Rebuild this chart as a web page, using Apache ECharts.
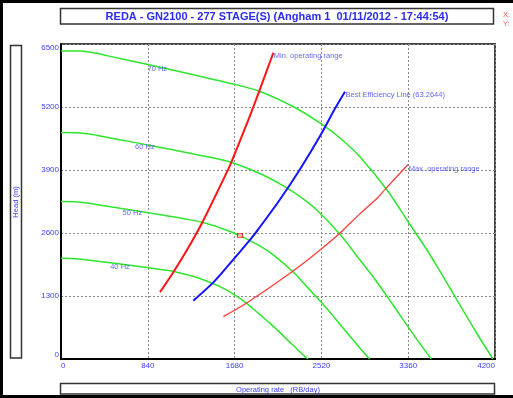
<!DOCTYPE html>
<html>
<head>
<meta charset="utf-8">
<script src="https://cdn.jsdelivr.net/npm/echarts@6/dist/echarts.min.js"></script>
<style>
  html, body { margin: 0; padding: 0; background: #fff; }
  #chart { width: 513px; height: 398px; }
</style>
</head>
<body>
<div id="chart"></div>
<script>
// Pump performance curves: [rate (RB/day), head (m)]
const curve70 = [[0,6356],[184,6356],[358,6304],[455,6255],[842,6077],[1229,5891],[1684,5664],[1926,5520],[2245,5210],[2506,4870],[2700,4560],[2894,4169],[3155,3487],[3358,2837],[3542,2249],[3668,1806],[3861,1114],[4016,557],[4180,0]];
const curve60 = [[0,4673],[158,4670],[307,4632],[390,4596],[722,4465],[1053,4328],[1443,4161],[1651,4056],[1924,3828],[2148,3578],[2314,3350],[2481,3063],[2704,2562],[2878,2084],[3036,1652],[3144,1327],[3309,818],[3442,409],[3583,0]];
const curve50 = [[0,3250],[131,3247],[256,3218],[325,3192],[601,3101],[878,3006],[1203,2890],[1376,2816],[1604,2658],[1790,2485],[1929,2327],[2067,2127],[2254,1779],[2399,1447],[2530,1147],[2620,921],[2758,568],[2869,284],[2986,0]];
const curve40 = [[0,2078],[105,2076],[205,2058],[260,2042],[481,1984],[702,1923],[962,1849],[1101,1802],[1283,1701],[1432,1590],[1543,1489],[1654,1361],[1803,1139],[1919,926],[2024,734],[2096,590],[2206,364],[2295,182],[2389,0]];

const hzNames = ['70 Hz', '60 Hz', '50 Hz', '40 Hz'];
const hzLabelFlow = [842, 722, 601, 481];

// Operating envelope and best efficiency line
const minRange = [[958,1380],[1087,1790],[1216,2237],[1362,2795],[1619,3918],[1652,4078],[1813,4932],[1861,5200],[1916,5512],[2055,6320]];
const bepLine = [[1280,1204],[1474,1582],[1636,1974],[1829,2458],[1894,2633],[2119,3291],[2313,3915],[2507,4600],[2652,5168],[2748,5515]];
const maxRange = [[1571,875],[1797,1155],[2233,1794],[2507,2249],[2700,2600],[2894,3000],[3055,3308],[3136,3500],[3361,4018]];
const lineNames = ['Min. operating range', 'Best Efficiency Line (63.2644)', 'Max. operating range'];

// Current operating point
const operatingPoint = [1732, 2550];

// Axis ticks
const xTicks = [0, 840, 1680, 2520, 3360, 4200];
const yTicks = [0, 1300, 2600, 3900, 5200, 6500];

const titleText = 'REDA - GN2100 - 277 STAGE(S) (Angham 1  01/11/2012 - 17:44:54)';
const xTitle = 'Operating rate   (RB/day)';
const yTitle = 'Head (m)';

const FONT = '"Liberation Sans", Arial, sans-serif';
const BLUE_TXT = '#3d3dff';

const hzCurves = [curve70, curve60, curve50, curve40];

const curveSeries = hzCurves.map((c, i) => ({
  name: hzNames[i],
  type: 'line',
  data: c,
  showSymbol: false,
  smooth: 0.3,
  lineStyle: { color: '#2ee62e', width: 1.5, join: 'round' },
  z: 2,
  silent: true
}));

// Text carriers anchored on the curves and at the line ends
const hzLabelData = hzCurves.map((c, i) => {
  const p = c.find(d => d[0] === hzLabelFlow[i]);
  return { value: [p[0], p[1]], label: { formatter: hzNames[i], position: [0, 1] } };
});
const lineEnds = [minRange, bepLine, maxRange].map((arr, i) => {
  const p = arr[arr.length - 1];
  return { value: [p[0], p[1]], label: { formatter: lineNames[i], position: [1, i === 2 ? 1 : 0] } };
});

const plainNumber = v => String(v);

const option = {
  animation: false,
  backgroundColor: '#fff',
  grid: {
    left: 61, right: 18, top: 44, bottom: 39,
    show: true, borderColor: '#444', borderWidth: 2, backgroundColor: 'transparent'
  },
  xAxis: {
    type: 'value', min: xTicks[0], max: xTicks[xTicks.length - 1], interval: 840,
    axisLine: { lineStyle: { color: '#000', width: 2 } },
    axisTick: { show: false },
    axisLabel: { color: BLUE_TXT, fontSize: 8, fontFamily: FONT, margin: 3, formatter: plainNumber,
                 alignMinLabel: 'left', alignMaxLabel: 'right' },
    splitLine: { show: true, lineStyle: { color: '#888', width: 1, type: [2, 2] } }
  },
  yAxis: {
    type: 'value', min: yTicks[0], max: yTicks[yTicks.length - 1], interval: 1300,
    axisLine: { show: true, lineStyle: { color: '#000', width: 2 } },
    axisTick: { show: false },
    axisLabel: { color: BLUE_TXT, fontSize: 8, fontFamily: FONT, margin: 2, formatter: plainNumber,
                 verticalAlignMinLabel: 'bottom', verticalAlignMaxLabel: 'top' },
    splitLine: { show: true, lineStyle: { color: '#888', width: 1, type: [2, 2] } }
  },
  series: [
    ...curveSeries,
    { name: lineNames[0], type: 'line', data: minRange, showSymbol: false, smooth: 0.3,
      lineStyle: { color: '#ff1414', width: 2, join: 'round' }, z: 3, silent: true },
    { name: lineNames[1], type: 'line', data: bepLine, showSymbol: false, smooth: 0.3,
      lineStyle: { color: '#1414ff', width: 2, join: 'round' }, z: 3, silent: true },
    { name: lineNames[2], type: 'line', data: maxRange, showSymbol: false, smooth: 0.3,
      lineStyle: { color: '#ff3c3c', width: 1.3, join: 'round' }, z: 3, silent: true },
    { name: 'Operating point', type: 'scatter', data: [operatingPoint],
      symbol: 'rect', symbolSize: [5, 4],
      itemStyle: { color: '#ffb4b4', borderColor: '#ff0000', borderWidth: 1 }, z: 5, silent: true },
    { name: 'labels', type: 'scatter', data: [...hzLabelData, ...lineEnds],
      symbolSize: 1, itemStyle: { color: 'transparent' }, z: 6, silent: true,
      label: { show: true, color: BLUE_TXT, fontSize: 7.5, fontFamily: FONT,
               align: 'left', verticalAlign: 'top' } }
  ],
  graphic: [
    // outer frame
    { type: 'rect', shape: { x: 0, y: 0, width: 513, height: 3 }, style: { fill: '#000' }, silent: true },
    { type: 'rect', shape: { x: 0, y: 0, width: 3, height: 398 }, style: { fill: '#000' }, silent: true },
    { type: 'rect', shape: { x: 0, y: 395, width: 513, height: 3 }, style: { fill: '#000' }, silent: true },
    // title box
    { type: 'rect', shape: { x: 60.5, y: 8.5, width: 433, height: 15.5 },
      style: { fill: '#fff', stroke: '#333', lineWidth: 1.5 }, silent: true },
    { type: 'text', x: 277, y: 16.5,
      style: { text: titleText, fill: '#2b2bf2', font: 'bold 11px ' + FONT, align: 'center', verticalAlign: 'middle' }, silent: true },
    { type: 'text', x: 503, y: 15,
      style: { text: 'X:', fill: '#ff5a5a', font: '7.5px ' + FONT, align: 'left', verticalAlign: 'middle' }, silent: true },
    { type: 'text', x: 503, y: 23.5,
      style: { text: 'Y:', fill: '#ff5a5a', font: '7.5px ' + FONT, align: 'left', verticalAlign: 'middle' }, silent: true },
    // y axis title box
    { type: 'rect', shape: { x: 10.5, y: 45.5, width: 11, height: 312.5 },
      style: { fill: '#fff', stroke: '#333', lineWidth: 1.5 }, silent: true },
    { type: 'text', x: 16, y: 202, rotation: Math.PI / 2,
      style: { text: yTitle, fill: BLUE_TXT, font: '7.5px ' + FONT, align: 'center', verticalAlign: 'middle' }, silent: true },
    // x axis title box
    { type: 'rect', shape: { x: 60.5, y: 383.5, width: 434, height: 10.5 },
      style: { fill: '#fff', stroke: '#333', lineWidth: 1.5 }, silent: true },
    { type: 'text', x: 278, y: 389.5,
      style: { text: xTitle, fill: BLUE_TXT, font: '7.5px ' + FONT, align: 'center', verticalAlign: 'middle' }, silent: true }
  ]
};

const chart = echarts.init(document.getElementById('chart'), null, { renderer: 'canvas' });
chart.setOption(option);
</script>
</body>
</html>
